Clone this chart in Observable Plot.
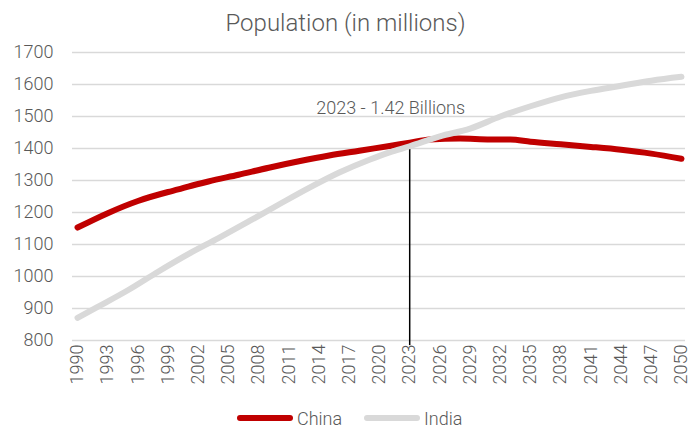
<!DOCTYPE html>
<html>
<head>
<meta charset="utf-8">
<script src="https://cdn.jsdelivr.net/npm/d3@7"></script>
<script src="https://cdn.jsdelivr.net/npm/@observablehq/plot@0.6"></script>
<style>
  html, body { margin: 0; padding: 0; background: #fff; }
  body { width: 691px; height: 427px; overflow: hidden; font-family: Roboto, sans-serif; font-weight: 300; color: #595959; }
  #title { height: 40px; line-height: 46px; text-align: center; font-size: 24px; font-weight: 300; color: #595959; }
  #legend { position: absolute; top: 405px; left: 0; width: 691px; height: 22px; }
  .item { position: absolute; top: 0; display: flex; align-items: center; height: 26px; font-size: 18px; }
  .swatch { width: 56px; height: 6px; border-radius: 3px; margin-right: 4px; }
</style>
</head>
<body>
<div id="title">Population (in millions)</div>
<div id="chart"></div>
<div id="legend">
  <div class="item" style="left:237px"><div class="swatch" style="background:#C00000"></div><span>China</span></div>
  <div class="item" style="left:364px"><div class="swatch" style="background:#D9D9D9"></div><span>India</span></div>
</div>
<script>
const chinaYears = [1990, 1993, 1996, 1999, 2000, 2001, 2003, 2006, 2009, 2012, 2015, 2018, 2021, 2023, 2025, 2028, 2031, 2033, 2035, 2038, 2041, 2044, 2047, 2050];
const chinaPop   = [1153, 1198, 1236, 1264, 1272, 1281, 1297, 1318, 1340, 1360, 1378, 1393, 1408, 1418, 1428, 1431, 1428, 1428, 1421, 1413, 1405, 1396, 1384, 1368];
const indiaYears = [1990, 1992, 1995, 1998, 2001, 2004, 2007, 2010, 2013, 2016, 2019, 2021, 2023, 2026, 2029, 2032, 2035, 2038, 2041, 2044, 2047, 2050];
const indiaPop   = [871, 905, 957, 1015, 1070, 1120, 1172, 1225, 1277, 1325, 1365, 1388, 1407, 1438, 1462, 1500, 1532, 1560, 1580, 1596, 1612, 1624];
const xTicks = [1990, 1993, 1996, 1999, 2002, 2005, 2008, 2011, 2014, 2017, 2020, 2023, 2026, 2029, 2032, 2035, 2038, 2041, 2044, 2047, 2050];
const yTicks = [800, 900, 1000, 1100, 1200, 1300, 1400, 1500, 1600, 1700];
const annotationYear = 2023;
const annotationValue = 1418;
const annotationLabel = "2023 - 1.42 Billions";

const china = chinaYears.map((y, i) => ({year: y, value: chinaPop[i]}));
const india = indiaYears.map((y, i) => ({year: y, value: indiaPop[i]}));

const chart = Plot.plot({
  width: 691,
  height: 365,
  marginTop: 12,
  marginLeft: 72,
  marginRight: 6,
  marginBottom: 65,
  style: {fontFamily: "Roboto, sans-serif", fontWeight: 300, fontSize: "18px", color: "#595959", background: "#fff"},
  x: {domain: [1989.5, 2050.4], ticks: xTicks, tickFormat: d => String(d), tickRotate: -90, tickSize: 0, tickPadding: 4, label: null},
  y: {domain: [800, 1700], ticks: yTicks, tickFormat: d => String(d), tickSize: 0, tickPadding: 19, label: null},
  marks: [
    Plot.ruleY(yTicks, {stroke: "#D9D9D9", strokeWidth: 1.4}),
    Plot.axisY({ticks: yTicks, tickFormat: d => String(d), tickSize: 0, tickPadding: 19, label: null, fill: "#595959"}),
    Plot.axisX({ticks: xTicks, tickFormat: d => String(d), tickRotate: -90, tickSize: 0, tickPadding: 4, label: null, fill: "#595959"}),
    Plot.ruleX([annotationYear], {y1: annotationValue, y2: 784, stroke: "#000", strokeWidth: 1.5, clip: false}),
    Plot.line(china, {x: "year", y: "value", stroke: "#C00000", strokeWidth: 6, strokeLinecap: "round", strokeLinejoin: "round", curve: "monotone-x"}),
    Plot.line(india, {x: "year", y: "value", stroke: "#D9D9D9", strokeWidth: 6, strokeLinecap: "round", strokeLinejoin: "round", curve: "monotone-x"}),
    Plot.text([annotationLabel], {x: annotationYear, y: annotationValue + 108, text: d => d, dx: -19, fill: "#595959", fontSize: 18, fontWeight: 300})
  ]
});
document.getElementById("chart").appendChild(chart);
</script>
</body>
</html>
